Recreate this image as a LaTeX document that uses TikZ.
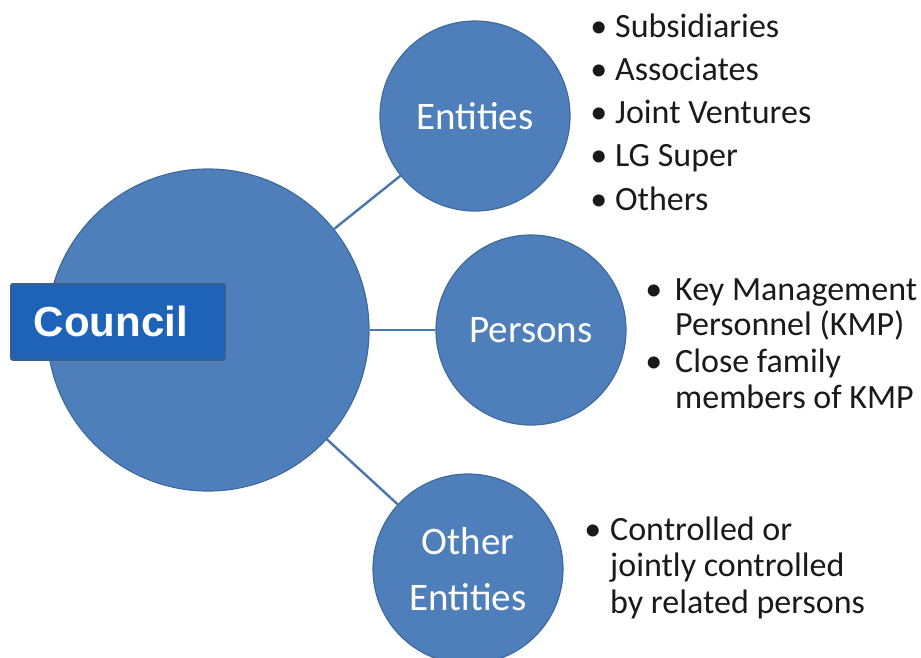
\documentclass[tikz,border=0pt]{standalone}
\usepackage{fontspec}
\setmainfont{Carlito}
\newfontfamily\councilfont{Liberation Sans}
\definecolor{bubfill}{HTML}{4F7FBB}
\definecolor{bubedge}{HTML}{3F6A9E}
\definecolor{linkcol}{HTML}{4A76AE}
\definecolor{boxfill}{HTML}{1F63B8}
\definecolor{boxedge}{HTML}{3C5E8C}
\definecolor{txt}{HTML}{1A1A1A}
\begin{document}
\begin{tikzpicture}[x=1pt,y=-1pt,
  bub/.style={circle,fill=bubfill,draw=bubedge,line width=1.2pt,inner sep=0pt,
    text=white,font=\fontsize{39}{56}\selectfont,align=center},
  link/.style={draw=linkcol,line width=2.4pt},
  cbox/.style={rectangle,rounded corners=2pt,fill=boxfill,draw=boxedge,line width=1.8pt,
    text=white,font=\councilfont\bfseries\fontsize{42}{48}\selectfont,
    inner xsep=23pt,inner ysep=0pt,text width=168pt,align=left,minimum height=76pt},
  blist/.style={anchor=base west,inner sep=0pt,text=txt,align=left}
]
\useasboundingbox (0,0) rectangle (921,657);
% circles
\node[bub,minimum size=322pt] (c0) at (208,330) {};
\node[bub,minimum size=190pt] (ent) at (475,116) {Entities};
\node[bub,minimum size=190pt] (per) at (531,330) {Persons};
\node[bub,minimum size=190pt] (oth) at (468,569) {Other\\Entities};
% connectors
\draw[link] (c0) -- (ent);
\draw[link] (c0) -- (per);
\draw[link] (c0) -- (oth);
% council box
\node[cbox,anchor=north west] (council) at (10,283) {Council};
% bullet lists
\node[blist] (l1) at (615,37) {\fontsize{34}{43.3}\selectfont
  \begin{tabular}[t]{@{}l@{}}
  \llap{\textbullet\hspace{8pt}}Subsidiaries\\
  \llap{\textbullet\hspace{8pt}}Associates\\
  \llap{\textbullet\hspace{8pt}}Joint Ventures\\
  \llap{\textbullet\hspace{8pt}}LG Super\\
  \llap{\textbullet\hspace{8pt}}Others
  \end{tabular}};
\node[blist] (l2) at (675,300) {\fontsize{34}{35.5}\selectfont
  \begin{tabular}[t]{@{}l@{}}
  \llap{\textbullet\hspace{13pt}}Key Management\\
  Personnel (KMP)\\[1.5pt]
  \llap{\textbullet\hspace{13pt}}Close family\\
  members of KMP
  \end{tabular}};
\node[blist] (l3) at (610,540) {\fontsize{34}{36.5}\selectfont
  \begin{tabular}[t]{@{}l@{}}
  \llap{\textbullet\hspace{9pt}}Controlled or\\
  jointly controlled\\
  by related persons
  \end{tabular}};
\end{tikzpicture}
\end{document}
